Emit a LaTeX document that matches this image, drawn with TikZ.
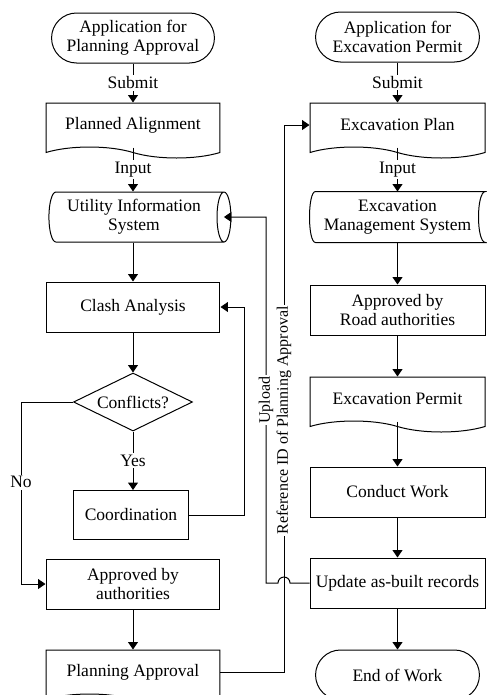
\documentclass[tikz,border=0pt]{standalone}
\usepackage{fontspec}
\setmainfont{Liberation Serif}
\usetikzlibrary{arrows.meta,shapes}

\begin{document}
\begin{tikzpicture}[x=0.6pt,y=-0.6pt,semithick,font=\fontsize{10.5}{11.5}\selectfont,
    term/.style={draw,rounded rectangle,minimum width=104.4pt,minimum height=30pt,align=center},
    box/.style={draw,rectangle,minimum width=104.4pt,minimum height=30pt,align=center},
    doc/.style={draw,tape,tape bend top=none,tape bend bottom=out and in,tape bend height=6.6pt,minimum width=104.4pt,minimum height=33pt,align=center},
    store/.style={rectangle,minimum width=105pt,minimum height=30pt,align=center},
    lbl/.style={fill=white,inner sep=1pt},
    vlbl/.style={lbl,rotate=90,font=\fontsize{9.6}{11}\selectfont},
    arr/.style={-{Triangle[width=6pt,length=4.5pt]}}]
    \useasboundingbox (0,0) rectangle (487,695);
    % left column
    \node (l1) at (133,38)[term]{Application for\\Planning Approval};
    \node (l2) at (133,125)[doc]{Planned Alignment};
    \node (l3) at (134,217)[draw,cylinder,shape border rotate=0,aspect=0.3,minimum width=30pt,minimum height=109.2pt,align=center]{Utility Information\\System};
    \node (l4) at (133,307)[box]{Clash Analysis};
    \node (l5) at (133,402)[draw,diamond,aspect=2,minimum width=71.4pt,minimum height=34.8pt,inner sep=1pt]{Conflicts?};
    \node (l6) at (131,515)[box,minimum width=69pt,minimum height=29.4pt]{Coordination};
    \node (l7) at (133,584)[box]{Approved by\\authorities};
    \node (l8) at (133,672)[doc]{Planning Approval};
    % right column
    \node (r1) at (397.5,37)[term,minimum width=105pt]{Application for\\Excavation Permit};
    \node (r3) at (397.5,125)[doc,minimum width=105pt]{Excavation Plan};
    \node (r4) at (397.5,217)[store]{Excavation\\Management System};
    \draw ([xshift=3.6pt]r4.north west) -- (r4.north east) .. controls ([xshift=-5.6pt]r4.north east) and ([xshift=-5.6pt]r4.south east) .. (r4.south east) -- ([xshift=3.6pt]r4.south west) .. controls ([xshift=-1.2pt]r4.south west) and ([xshift=-1.2pt]r4.north west) .. cycle;
    \node (r5) at (397.5,310)[box,minimum width=105pt]{Approved by\\Road authorities};
    \node (r6) at (397.5,399)[doc,minimum width=105pt]{Excavation Permit};
    \node (r7) at (397.5,492)[box,minimum width=105pt]{Conduct Work};
    \node (r8) at (397.5,583)[box,minimum width=105pt]{Update as-built records};
    \node (r9) at (397.5,675)[term,minimum width=105pt]{End of Work};
    \coordinate (hop) at (290,0);
    \coordinate (up) at (266,0);
    \coordinate (ref) at (284,0);
    % connectors
    \draw[arr] (l1.south) -- node[lbl]{Submit} (l2.north);
    \draw[arr] (l2.south) -- node[lbl]{Input} (l2.south |- l3.north);
    \draw[arr] (l3.south -| l4) -- (l4.north);
    \draw[arr] (l4.south) -- (l5.north);
    \draw[arr] (l5.south) -- node[lbl]{Yes} (l5.south |- l6.north);
    \draw[arr] (l5.west) -- ++(-52,0) |- node[lbl,pos=0.22]{No} (l7.west);
    \draw[arr] (l6.east) -- ++(55,0) |- (l4.east);
    \draw[arr] (l7.south) -- (l8.north);
    \draw[arr] (l8.east) -| node[vlbl,pos=0.73]{Reference ID of Planning Approval} (r3.west -| ref) -- (r3.west);
    \draw[arr] (r1.south) -- node[lbl]{Submit} (r3.north);
    \draw[arr] (r3.south) -- node[lbl]{Input} (r4.north);
    \draw[arr] (r4.south) -- (r5.north);
    \draw[arr] (r5.south) -- (r6.north);
    \draw[arr] (r6.south) -- (r7.north);
    \draw[arr] (r7.south) -- (r8.north);
    \draw[arr] (r8.south) -- (r9.north);
    \draw[arr] (r8.west) -- (r8.west -| hop) arc[start angle=0,end angle=180,radius=3.6pt] -- (r8.west -| up) -- node[vlbl]{Upload} (l3.east -| up) -- ([xshift=-4.5pt]l3.east);
\end{tikzpicture}
\end{document}
